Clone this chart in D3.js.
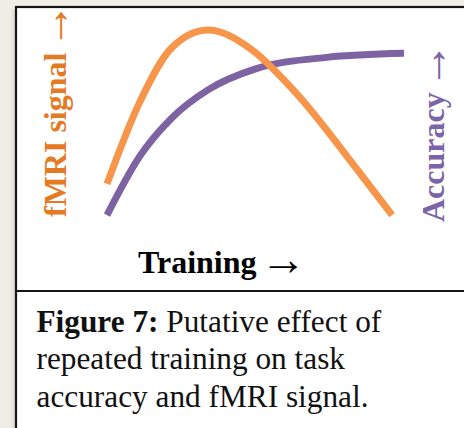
<!DOCTYPE html>
<html>
<head>
<meta charset="utf-8">
<script src="https://cdn.jsdelivr.net/npm/d3@7"></script>
<style>
  html, body { margin: 0; padding: 0; background: #f0ede6; }
  svg { display: block; }
  .lbl { font-family: "Liberation Serif", "Times New Roman", serif; font-size: 32px; }
  .cap { font-family: "Liberation Serif", "Times New Roman", serif; font-size: 31.3px; }
  .arr { font-family: "Liberation Serif", serif; font-weight: normal; font-size: 46px; }
</style>
</head>
<body>
<div class="chart"></div>
<script>
// training progress (0-100) and curve heights (0-100, arbitrary units)
const fmriX = [0, 11, 22, 34, 48, 63, 85, 96];
const fmriY = [19, 62, 91, 100, 90.5, 68, 25, 2.6];
const accX = [0, 11, 22, 34, 50, 74, 100];
const accY = [2.6, 33.5, 54, 68.5, 79.5, 85.6, 87.7];

const captionLines = [
  [["Figure 7:", "bold"], [" Putative effect of", "normal"]],
  [["repeated training on task", "normal"]],
  [["accuracy and fMRI signal.", "normal"]]
];

let svgWidth = 464;
let svgHeight = 428;

let svg = d3.select(".chart")
  .append("svg")
  .attr("width", svgWidth)
  .attr("height", svgHeight);

// soft shadow left of the box
let grad = svg.append("defs").append("linearGradient")
  .attr("id", "shade").attr("x1", 0).attr("x2", 1);
grad.append("stop").attr("offset", "0%").attr("stop-color", "#f0ede6");
grad.append("stop").attr("offset", "100%").attr("stop-color", "#d6d4cf");
svg.append("rect").attr("x", 10).attr("y", 10).attr("width", 6).attr("height", svgHeight)
  .attr("fill", "url(#shade)");

// box
svg.append("rect")
  .attr("x", 16).attr("y", 7)
  .attr("width", 470).attr("height", 440)
  .attr("fill", "#fff")
  .attr("stroke", "#151515")
  .attr("stroke-width", 2.2);

svg.append("line")
  .attr("x1", 16).attr("x2", svgWidth)
  .attr("y1", 291).attr("y2", 291)
  .attr("stroke", "#151515")
  .attr("stroke-width", 2.2);

let x = d3.scaleLinear().domain([0, 100]).range([107, 404]);
let y = d3.scaleLinear().domain([0, 100]).range([220, 30]);

let line = d3.line()
  .x(d => x(d[0]))
  .y(d => y(d[1]))
  .curve(d3.curveMonotoneX);

svg.append("path")
  .datum(d3.zip(accX, accY))
  .attr("d", line)
  .attr("fill", "none")
  .attr("stroke", "#7d63a1")
  .attr("stroke-width", 7);

svg.append("path")
  .datum(d3.zip(fmriX, fmriY))
  .attr("d", line)
  .attr("fill", "none")
  .attr("stroke", "#f7954a")
  .attr("stroke-width", 7);

// axis labels, arrow drawn as a larger thin glyph
function label(sel, word) {
  sel.append("tspan").attr("font-weight", "bold").text(word);
  sel.append("tspan").attr("class", "arr").attr("dx", 4).attr("dy", 2.5).text("→");
}

label(svg.append("text")
  .attr("class", "lbl")
  .attr("transform", "translate(66,217) rotate(-90)")
  .attr("fill", "#e57a25"), "fMRI signal");

label(svg.append("text")
  .attr("class", "lbl")
  .attr("transform", "translate(444,222) rotate(-90)")
  .attr("fill", "#7b64a8"), "Accuracy");

label(svg.append("text")
  .attr("class", "lbl")
  .attr("x", 138).attr("y", 272.5)
  .attr("fill", "#000"), "Training");

// caption
captionLines.forEach(function(parts, i) {
  let t = svg.append("text")
    .attr("class", "cap")
    .attr("x", 36.5)
    .attr("y", 331.7 + i * 37.5)
    .attr("fill", "#111");
  parts.forEach(function(p) {
    t.append("tspan").attr("font-weight", p[1]).text(p[0]);
  });
});
</script>
</body>
</html>
